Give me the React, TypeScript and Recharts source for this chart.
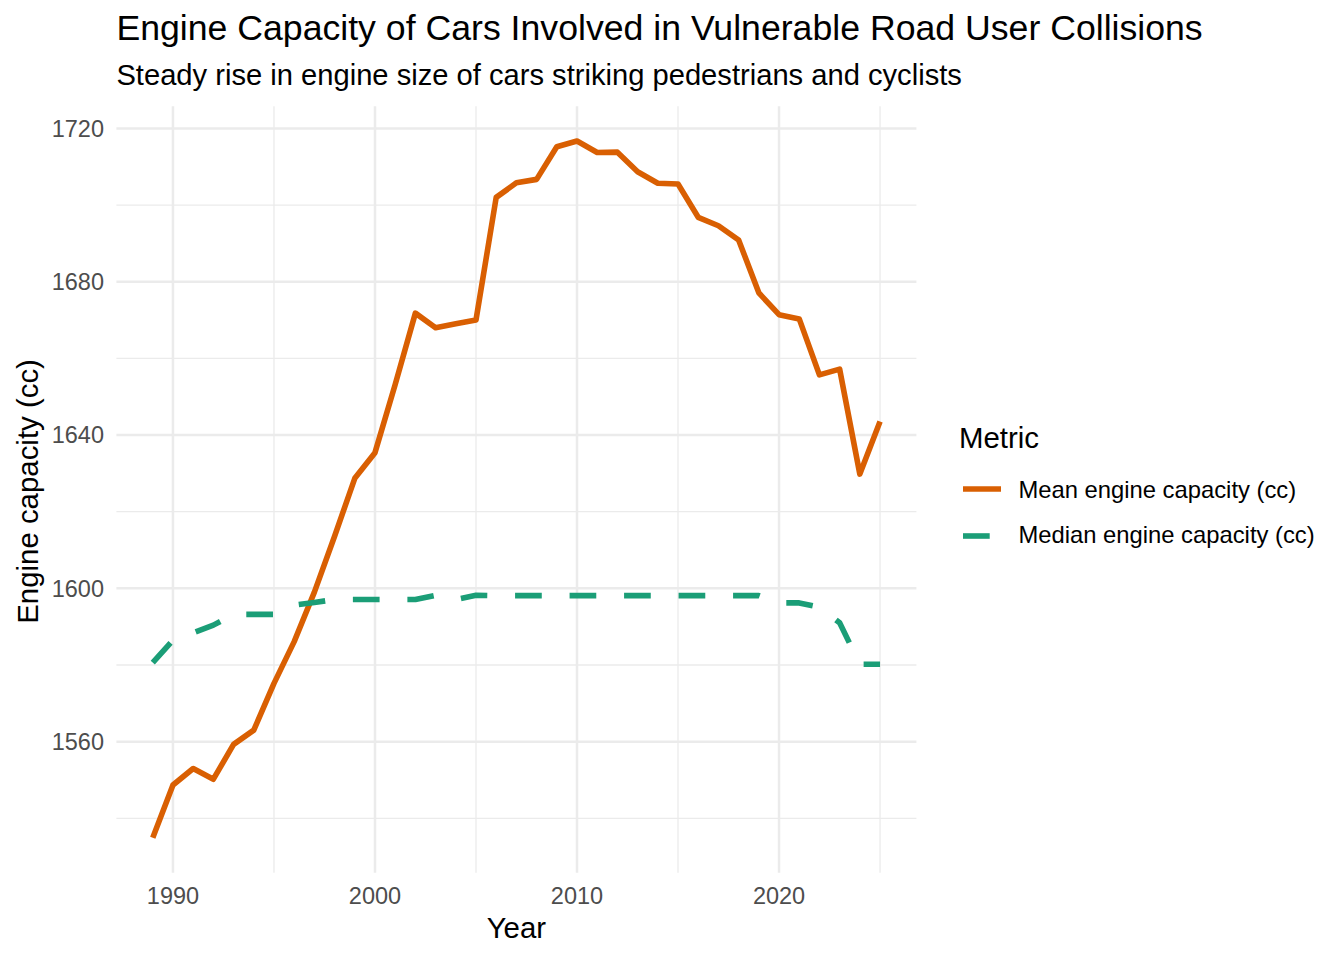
import {
  Legend,
  Line,
  LineChart,
  ReferenceLine,
  XAxis,
  YAxis,
} from 'recharts';

const FONT = '"Liberation Sans", Arial, Helvetica, sans-serif';

const years = [
  1989, 1990, 1991, 1992, 1993, 1994, 1995, 1996, 1997, 1998, 1999, 2000,
  2001, 2002, 2003, 2004, 2005, 2006, 2007, 2008, 2009, 2010, 2011, 2012,
  2013, 2014, 2015, 2016, 2017, 2018, 2019, 2020, 2021, 2022, 2023, 2024,
  2025,
];

const meanCapacity = [
  1534.9, 1548.7, 1553.0, 1550.2, 1559.3, 1563.0, 1575.2, 1586.1, 1599.0,
  1613.6, 1628.7, 1635.4, 1653.2, 1671.8, 1668.0, 1669.0, 1670.0, 1702.0,
  1705.8, 1706.7, 1715.2, 1716.7, 1713.7, 1713.8, 1708.7, 1705.7, 1705.5,
  1696.8, 1694.6, 1690.9, 1677.1, 1671.4, 1670.3, 1655.7, 1657.2, 1629.8,
  1643.5,
];

const medianCapacity = [
  1580.6, 1586.5, 1588.4, 1590.4, 1593.2, 1593.2, 1593.2, 1595.6, 1596.3,
  1597.1, 1597.1, 1597.1, 1597.1, 1597.1, 1598.2, 1597.1, 1598.2, 1598.1,
  1598.1, 1598.1, 1598.1, 1598.1, 1598.1, 1598.1, 1598.1, 1598.1, 1598.1,
  1598.1, 1598.1, 1598.1, 1598.1, 1596.2, 1596.2, 1595.1, 1591.0, 1580.2,
  1580.2,
];

const seriesNames = ['Mean engine capacity (cc)', 'Median engine capacity (cc)'];
const seriesColors = ['#D95F02', '#1B9E77'];

const xTicks = [1990, 2000, 2010, 2020];
const xMinor = [1995, 2005, 2015, 2025];
const yTicks = [1560, 1600, 1640, 1680, 1720];
const yMinor = [1540, 1580, 1620, 1660, 1700];

const data = years.map((year, i) => ({
  year,
  mean: meanCapacity[i],
  median: medianCapacity[i],
}));

// ggplot-style 5% expansion on both axes
const xSpan = years[years.length - 1] - years[0];
const xDomain = [years[0] - xSpan * 0.05, years[years.length - 1] + xSpan * 0.05];
const allValues = [...meanCapacity, ...medianCapacity];
const yLo = Math.min(...allValues);
const yHi = Math.max(...allValues);
const yDomain = [yLo - (yHi - yLo) * 0.05, yHi + (yHi - yLo) * 0.05];

const GRID = '#EBEBEB';
const DASH = '26.7 27.8';
const LINE_W = 5.6;

// line-height 1 => baseline sits 0.8465em below the top for Liberation Sans
const topFromBaseline = (baseline: number, size: number) => baseline - 0.8465 * size;

function MetricLegend() {
  const keyY = [489, 535.5];
  const labelBase = [498.3, 543.3];
  return (
    <div style={{ position: 'relative', width: 0, height: 0, fontFamily: FONT }}>
      <div
        style={{
          position: 'absolute',
          left: 959,
          top: topFromBaseline(448.3, 29.4),
          fontSize: 29.4,
          lineHeight: 1,
          whiteSpace: 'nowrap',
          color: '#000',
        }}
      >
        Metric
      </div>
      {seriesNames.map((name, i) => (
        <div key={name}>
          <svg
            width={40}
            height={12}
            style={{ position: 'absolute', left: 962, top: keyY[i] - 6 }}
          >
            <line
              x1={1}
              x2={39}
              y1={6}
              y2={6}
              stroke={seriesColors[i]}
              strokeWidth={LINE_W}
              strokeDasharray={i === 1 ? DASH : undefined}
            />
          </svg>
          <div
            style={{
              position: 'absolute',
              left: 1018.4,
              top: topFromBaseline(labelBase[i], 23.8),
              fontSize: 23.8,
              lineHeight: 1,
              whiteSpace: 'nowrap',
              color: '#000',
            }}
          >
            {name}
          </div>
        </div>
      ))}
    </div>
  );
}

export default function App() {
  return (
    <div
      style={{
        position: 'absolute',
        left: 0,
        top: 0,
        width: 1344,
        height: 960,
        background: '#fff',
        fontFamily: FONT,
      }}
    >
      <div
        style={{
          position: 'absolute',
          left: 116.4,
          top: topFromBaseline(41.5, 35.65),
          fontSize: 35.65,
          lineHeight: 1,
          whiteSpace: 'nowrap',
          color: '#000',
        }}
      >
        Engine Capacity of Cars Involved in Vulnerable Road User Collisions
      </div>
      <div
        style={{
          position: 'absolute',
          left: 116.4,
          top: topFromBaseline(86, 29.15),
          fontSize: 29.15,
          lineHeight: 1,
          whiteSpace: 'nowrap',
          color: '#000',
        }}
      >
        Steady rise in engine size of cars striking pedestrians and cyclists
      </div>
      <LineChart
        width={1344}
        height={960}
        data={data}
        margin={{ top: 106.2, right: 427.6, bottom: 0, left: 36.4 }}
      >
        {yMinor.map((y) => (
          <ReferenceLine key={`hy${y}`} y={y} stroke={GRID} strokeWidth={1.3} />
        ))}
        {xMinor.map((x) => (
          <ReferenceLine key={`vx${x}`} x={x} stroke={GRID} strokeWidth={1.3} />
        ))}
        {yTicks.map((y) => (
          <ReferenceLine key={`hY${y}`} y={y} stroke={GRID} strokeWidth={2.5} />
        ))}
        {xTicks.map((x) => (
          <ReferenceLine key={`vX${x}`} x={x} stroke={GRID} strokeWidth={2.5} />
        ))}
        <XAxis
          type="number"
          dataKey="year"
          domain={xDomain}
          ticks={xTicks}
          interval={0}
          height={87.3}
          axisLine={false}
          tickLine={false}
          tickSize={0}
          tickMargin={14.6}
          tick={{ fontSize: 23.5, fill: '#4D4D4D', fontFamily: FONT }}
          label={{
            value: 'Year',
            position: 'insideBottom',
            offset: 22,
            fontSize: 29.4,
            fill: '#000',
            fontFamily: FONT,
          }}
        />
        <YAxis
          type="number"
          domain={yDomain}
          ticks={yTicks}
          interval={0}
          width={80}
          axisLine={false}
          tickLine={false}
          tickSize={0}
          tickMargin={12.4}
          tick={{ fontSize: 23.5, fill: '#4D4D4D', fontFamily: FONT }}
          label={{
            content: (props: any) => {
              const vb = props.viewBox || { y: 106.2, height: 766.5 };
              const cy = vb.y + vb.height / 2 + 2;
              return (
                <text
                  x={38}
                  y={cy}
                  transform={`rotate(-90 38 ${cy})`}
                  textAnchor="middle"
                  fontSize={29.4}
                  fontFamily={FONT}
                  fill="#000"
                >
                  Engine capacity (cc)
                </text>
              );
            },
          }}
        />
        <Line
          type="linear"
          dataKey="mean"
          name={seriesNames[0]}
          stroke={seriesColors[0]}
          strokeWidth={LINE_W}
          strokeLinejoin="round"
          strokeLinecap="butt"
          dot={false}
          activeDot={false}
          isAnimationActive={false}
        />
        <Line
          type="linear"
          dataKey="median"
          name={seriesNames[1]}
          stroke={seriesColors[1]}
          strokeWidth={LINE_W}
          strokeDasharray={DASH}
          strokeLinejoin="round"
          strokeLinecap="butt"
          dot={false}
          activeDot={false}
          isAnimationActive={false}
        />
        <Legend
          layout="vertical"
          align="center"
          verticalAlign="middle"
          content={() => <MetricLegend />}
          wrapperStyle={{ position: 'absolute', left: 0, top: 0, width: 0, height: 0 }}
        />
      </LineChart>
    </div>
  );
}
